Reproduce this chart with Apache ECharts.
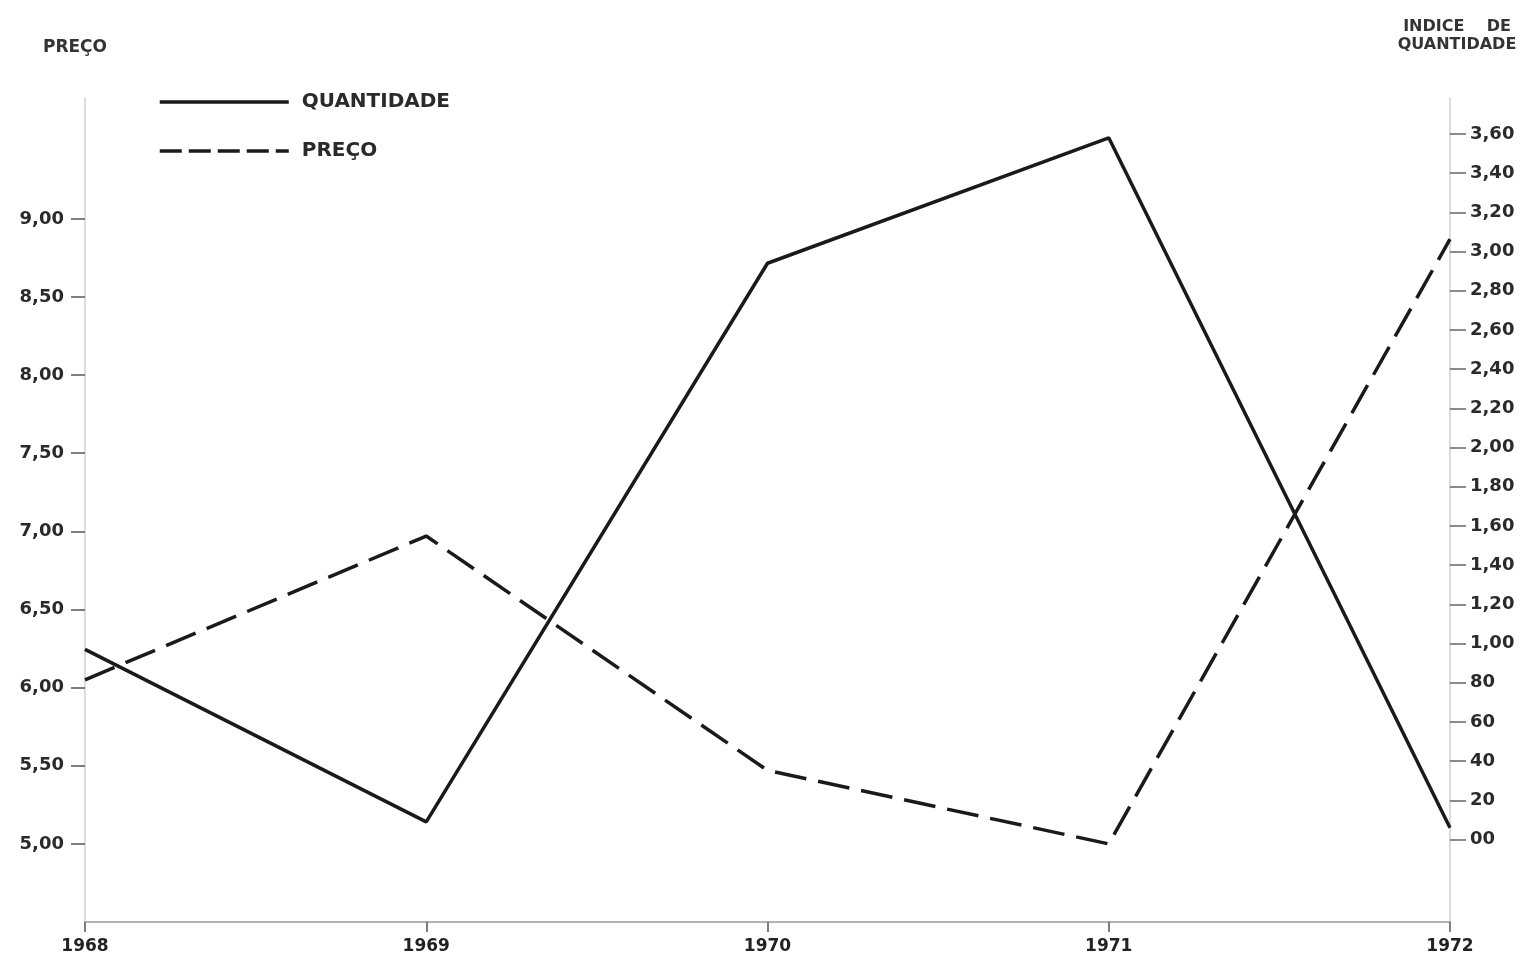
<!DOCTYPE html>
<html>
<head>
<meta charset="utf-8">
<script src="https://cdn.jsdelivr.net/npm/echarts@6/dist/echarts.min.js"></script>
<style>
html,body{margin:0;padding:0;background:#fff;}
#chart{width:1525px;height:961px;}
</style>
</head>
<body>
<div id="chart"></div>
<script>
// ---- data ----
var years = ['1968', '1969', '1970', '1971', '1972'];
var quantidade = [0.97, 0.09, 2.94, 3.58, 0.06];   // índice de quantidade (right axis)
var preco = [6.05, 6.97, 5.47, 5.00, 8.87];        // preço (left axis)

var leftTicks = [5.0, 5.5, 6.0, 6.5, 7.0, 7.5, 8.0, 8.5, 9.0];
var leftTickLabels = ['5,00', '5,50', '6,00', '6,50', '7,00', '7,50', '8,00', '8,50', '9,00'];
var rightTicks = [0, 0.2, 0.4, 0.6, 0.8, 1.0, 1.2, 1.4, 1.6, 1.8, 2.0, 2.2, 2.4, 2.6, 2.8, 3.0, 3.2, 3.4, 3.6];
var rightTickLabels = ['00', '20', '40', '60', '80', '1,00', '1,20', '1,40', '1,60', '1,80', '2,00',
  '2,20', '2,40', '2,60', '2,80', '3,00', '3,20', '3,40', '3,60'];

function labelFor(ticks, labels) {
  return function (v) {
    for (var i = 0; i < ticks.length; i++) {
      if (Math.abs(ticks[i] - v) < 1e-6) return labels[i];
    }
    return '';
  };
}

var FONT = 'DejaVu Sans';
var INK = '#1a1a1a';

var chart = echarts.init(document.getElementById('chart'));
chart.setOption({
  backgroundColor: '#ffffff',
  animation: false,
  textStyle: { fontFamily: FONT },
  legend: {
    orient: 'vertical',
    left: 158,
    top: 92,
    padding: 0,
    itemWidth: 129,
    itemHeight: 14,
    itemGap: 29,
    itemStyle: { opacity: 0 },
    lineStyle: { width: 3.5 },
    textStyle: { fontFamily: FONT, fontSize: 20, fontWeight: 'bold', color: '#2a2a2a', padding: [0, 0, 0, 8] },
    data: [
      { name: 'QUANTIDADE', itemStyle: { opacity: 0 }, lineStyle: { width: 3.5 } },
      { name: 'PREÇO', itemStyle: { opacity: 0 }, lineStyle: { width: 3.5, type: [22, 7] } }
    ]
  },
  grid: { left: 85, right: 75, top: 98, bottom: 39, containLabel: false },
  xAxis: {
    type: 'category',
    data: years,
    boundaryGap: false,
    axisLine: { onZero: false, lineStyle: { color: '#9a9a9a', width: 1.5 } },
    axisTick: { show: true, length: 10, lineStyle: { color: '#555', width: 1.5 }, alignWithLabel: true },
    axisLabel: { fontFamily: FONT, fontSize: 17, fontWeight: 'bold', color: '#222', margin: 16 },
    splitLine: { show: false }
  },
  yAxis: [
    {
      type: 'value',
      position: 'left',
      min: 4.5,
      max: 4.5 + (922 - 98) / 156.25,
      name: 'PREÇO',
      nameLocation: 'end',
      nameGap: 42,
      nameTextStyle: { fontFamily: FONT, fontSize: 17, fontWeight: 'bold', color: '#333', padding: [0, 20, 0, 0] },
      axisLine: { show: true, lineStyle: { color: '#d0d0d0', width: 1.5 } },
      axisTick: { show: true, length: 14, customValues: leftTicks, lineStyle: { color: '#555', width: 1.5 } },
      axisLabel: {
        customValues: leftTicks,
        formatter: labelFor(leftTicks, leftTickLabels),
        fontFamily: FONT, fontSize: 18, fontWeight: 'bold', color: '#2a2a2a', margin: 21
      },
      splitLine: { show: false }
    },
    {
      type: 'value',
      position: 'right',
      min: (839.5 - 922) / 196,
      max: (839.5 - 98) / 196,
      name: 'INDICE    DE\nQUANTIDADE',
      nameLocation: 'end',
      nameGap: 44,
      nameTextStyle: { fontFamily: FONT, fontSize: 16, fontWeight: 'bold', color: '#333', lineHeight: 18, align: 'center', padding: [0, 0, 0, 14] },
      axisLine: { show: true, lineStyle: { color: '#d0d0d0', width: 1.5 } },
      axisTick: { show: true, length: 16, customValues: rightTicks, lineStyle: { color: '#666', width: 1.5 } },
      axisLabel: {
        customValues: rightTicks,
        formatter: labelFor(rightTicks, rightTickLabels),
        fontFamily: FONT, fontSize: 18, fontWeight: 'bold', color: '#2a2a2a', margin: 20
      },
      splitLine: { show: false }
    }
  ],
  series: [
    {
      name: 'QUANTIDADE',
      type: 'line',
      yAxisIndex: 1,
      data: quantidade,
      symbol: 'none',
      lineStyle: { color: INK, width: 3.5, type: 'solid' },
      itemStyle: { color: INK }
    },
    {
      name: 'PREÇO',
      type: 'line',
      yAxisIndex: 0,
      data: preco,
      symbol: 'none',
      lineStyle: { color: INK, width: 3.5, type: [32, 12] },
      itemStyle: { color: INK }
    }
  ]
});
</script>
</body>
</html>
